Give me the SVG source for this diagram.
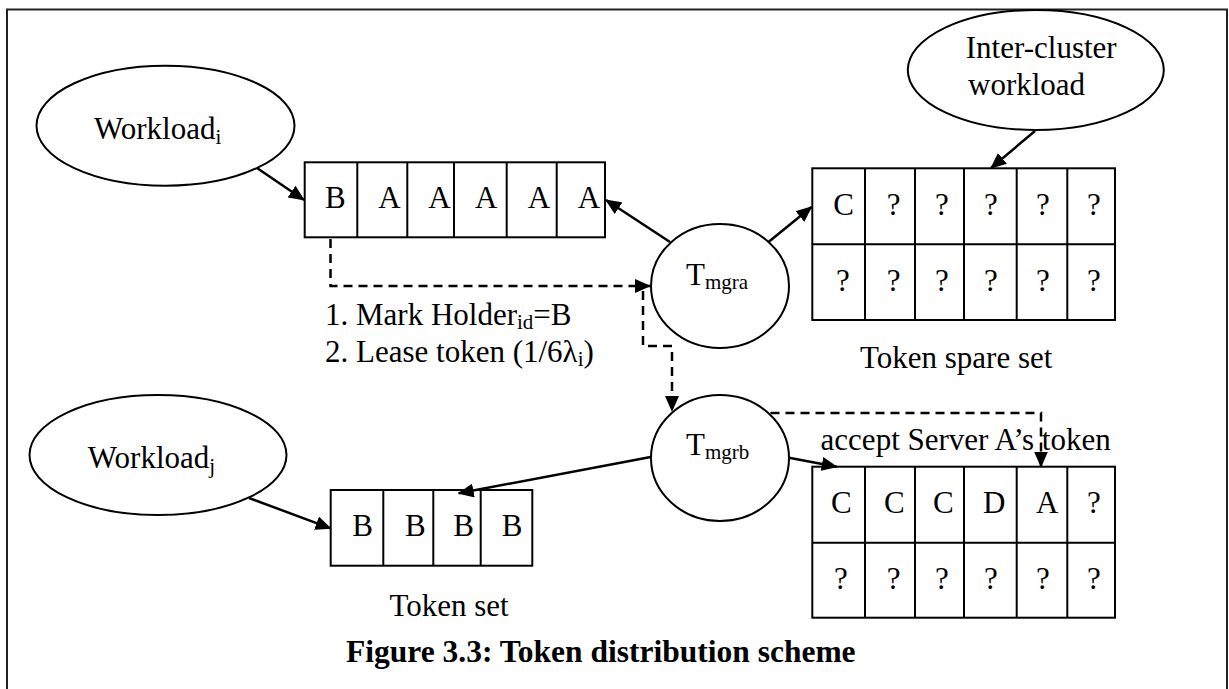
<svg xmlns="http://www.w3.org/2000/svg" width="1229" height="689" viewBox="0 0 1229 689">
<style>
text{font-family:"Liberation Serif","Times New Roman",serif;font-size:31px;fill:#000}
.sub{font-size:21px}
.cell{fill:none;stroke:#000;stroke-width:2}
.node{fill:#fff;stroke:#000;stroke-width:2}
.arr{fill:none;stroke:#000;stroke-width:2.5;marker-end:url(#ah)}
.dash{fill:none;stroke:#000;stroke-width:2.5;stroke-dasharray:9 6;marker-end:url(#ah)}
.cap{font-weight:bold;font-size:31.5px}
</style>
<defs>
<marker id="ah" markerUnits="userSpaceOnUse" markerWidth="16" markerHeight="14" refX="15" refY="7" orient="auto">
<path d="M0,0 L16,7 L0,14 Z" fill="#000"/>
</marker>
</defs>
<rect x="7" y="9.5" width="1220" height="700" fill="#fff" stroke="#222" stroke-width="2"/>

<g id="connectors">
<line class="arr" x1="257" y1="168" x2="304" y2="200"/>
<line class="arr" x1="670" y1="242" x2="606" y2="200"/>
<line class="arr" x1="768.5" y1="242" x2="811.5" y2="207"/>
<line class="arr" x1="1035" y1="131" x2="991" y2="168"/>
<polyline class="dash" points="330.5,239 330.5,286 650,286"/>
<polyline class="dash" points="643,291 643,346 672,346 672,411"/>
<polyline class="dash" points="770.5,413 1041,413 1041,466.5"/>
<line class="arr" x1="789" y1="457.7" x2="836.7" y2="466.7"/>
<line class="arr" x1="652" y1="456.7" x2="458.7" y2="493.3"/>
<line class="arr" x1="249" y1="498" x2="330.6" y2="528.3"/>
</g>

<g id="workload-i">
<ellipse class="node" cx="165.5" cy="125.7" rx="129" ry="60"/>
<text x="94" y="139.3">Workload<tspan class="sub" dy="5">i</tspan></text>
</g>

<g id="top-array">
<rect class="cell" x="304.7" y="162.3" width="300.3" height="75"/>
<path class="cell" d="M357.3,162.3V237.3M407.3,162.3V237.3M454,162.3V237.3M506.7,162.3V237.3M556.7,162.3V237.3"/>
<text x="325" y="208.3">B</text>
<text x="378.3" y="208.3">A</text>
<text x="428.3" y="208.3">A</text>
<text x="475" y="208.3">A</text>
<text x="527.7" y="208.3">A</text>
<text x="577.7" y="208.3">A</text>
</g>

<g id="inter-cluster">
<ellipse class="node" cx="1035.8" cy="70" rx="128" ry="60"/>
<text x="965.8" y="58.3">Inter-cluster</text>
<text x="968" y="95">workload</text>
</g>

<g id="spare-set-a">
<rect class="cell" x="812.3" y="168.3" width="302.7" height="151.7"/>
<path class="cell" d="M812.3,244.3H1115M865,168.3V320M915,168.3V320M964,168.3V320M1016.7,168.3V320M1067.3,168.3V320"/>
<text x="833.3" y="215">C</text>
<text x="886.7" y="215">?</text>
<text x="935" y="215">?</text>
<text x="984" y="215">?</text>
<text x="1036" y="215">?</text>
<text x="1087" y="215">?</text>
<text x="836" y="291">?</text>
<text x="886.7" y="291">?</text>
<text x="935" y="291">?</text>
<text x="984" y="291">?</text>
<text x="1036" y="291">?</text>
<text x="1087" y="291">?</text>
<text x="860" y="368">Token spare set</text>
</g>

<g id="tmgra">
<ellipse class="node" cx="720" cy="286" rx="69" ry="62"/>
<text x="686" y="285">T<tspan class="sub" dy="3.5">mgra</tspan></text>
</g>

<g id="lease-label">
<text x="325" y="325">1. Mark Holder<tspan class="sub" dy="4">id</tspan><tspan dy="-4">=B</tspan></text>
<text x="325" y="362">2. Lease token (1/6λ<tspan class="sub" dy="4">i</tspan><tspan dy="-4">)</tspan></text>
</g>

<g id="tmgrb">
<ellipse class="node" cx="720" cy="458" rx="69" ry="63"/>
<text x="686" y="455">T<tspan class="sub" dy="3.5">mgrb</tspan></text>
</g>

<g id="accept-label">
<text x="820.6" y="450">accept Server A’s token</text>
</g>

<g id="spare-set-b">
<rect class="cell" x="812.3" y="466.7" width="302.7" height="151"/>
<path class="cell" d="M812.3,542.7H1115M865,466.7V617.7M915,466.7V617.7M964,466.7V617.7M1016.7,466.7V617.7M1067.3,466.7V617.7"/>
<text x="831" y="513">C</text>
<text x="884" y="513">C</text>
<text x="933" y="513">C</text>
<text x="983" y="513">D</text>
<text x="1036" y="513">A</text>
<text x="1087" y="513">?</text>
<text x="834" y="589">?</text>
<text x="886.7" y="589">?</text>
<text x="935" y="589">?</text>
<text x="984" y="589">?</text>
<text x="1036" y="589">?</text>
<text x="1087" y="589">?</text>
</g>

<g id="workload-j">
<ellipse class="node" cx="158" cy="455" rx="128.5" ry="60"/>
<text x="87.8" y="468.3">Workload<tspan class="sub" dy="5">j</tspan></text>
</g>

<g id="token-set">
<rect class="cell" x="330.7" y="490" width="201.6" height="75.7"/>
<path class="cell" d="M383.3,490V565.7M433.3,490V565.7M480.7,490V565.7"/>
<text x="352.3" y="535.7">B</text>
<text x="405" y="535.7">B</text>
<text x="453.3" y="535.7">B</text>
<text x="501.7" y="535.7">B</text>
<text x="389.5" y="616">Token set</text>
</g>

<text class="cap" x="346" y="661.7">Figure 3.3: Token distribution scheme</text>
</svg>
